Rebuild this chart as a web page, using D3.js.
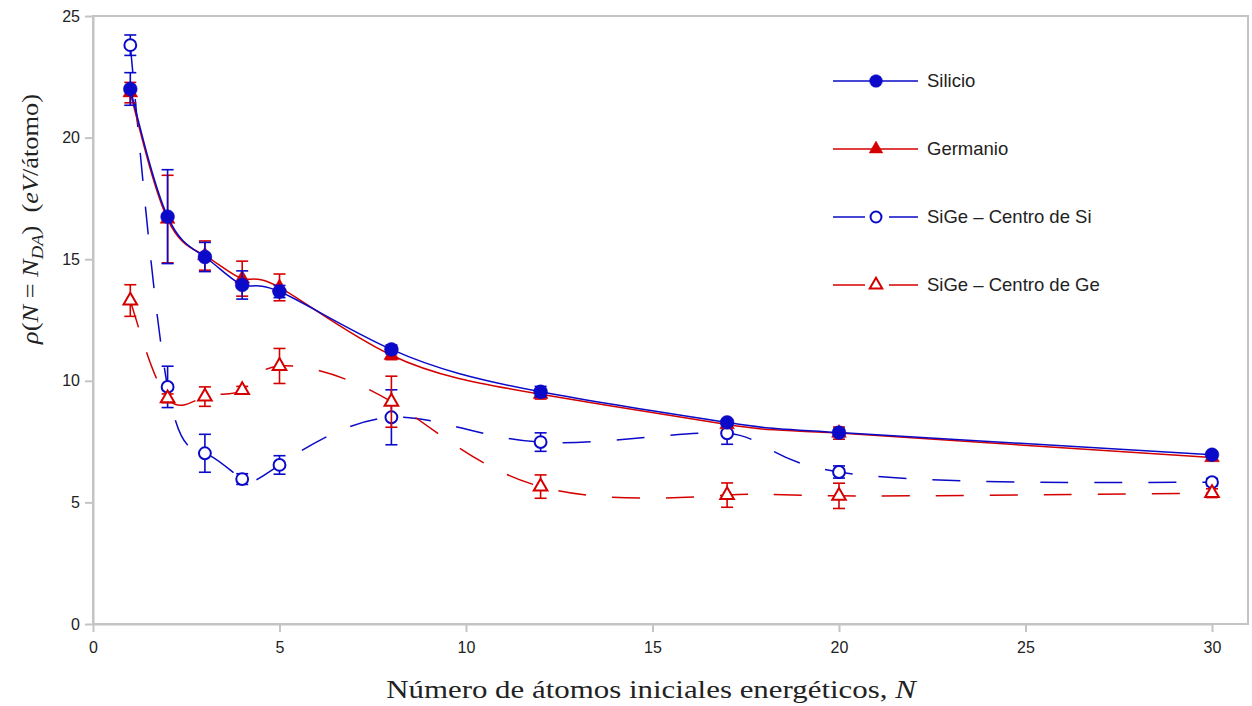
<!DOCTYPE html>
<html>
<head>
<meta charset="utf-8">
<script src="https://cdn.jsdelivr.net/npm/d3@7"></script>
<style>
  html, body { margin: 0; padding: 0; background: #fff; }
  svg { display: block; }
</style>
</head>
<body>
<svg id="chart" width="1252" height="706"></svg>
<script>
// Number of initial energetic atoms
const nValues = [1, 2, 3, 4, 5, 8, 12, 17, 20, 30];

// Silicio
const silicio    = [22.0, 16.75, 15.09, 13.94, 13.67, 11.29, 9.55, 8.29, 7.87, 6.96];
const silicioErr = [0.67, 1.93, 0.60, 0.58, 0.25, 0.18, 0.22, 0.12, 0.15, 0.10];

// Germanio
const germanio    = [21.85, 16.65, 15.15, 14.2, 13.84, 11.05, 9.45, 8.2, 7.85, 6.85];
const germanioErr = [0.42, 1.80, 0.60, 0.72, 0.55, 0.18, 0.20, 0.12, 0.25, 0.12];

// SiGe - centro de Si
const sigeSi    = [23.8, 9.75, 7.02, 5.96, 6.54, 8.5, 7.48, 7.84, 6.25, 5.83];
const sigeSiErr = [0.42, 0.85, 0.78, 0.22, 0.38, 1.13, 0.38, 0.45, 0.25, 0.15];

// SiGe - centro de Ge
const sigeGe    = [13.3, 9.28, 9.35, 9.62, 10.61, 9.14, 5.65, 5.3, 5.27, 5.38];
const sigeGeErr = [0.65, 0.18, 0.40, 0.15, 0.72, 1.05, 0.48, 0.50, 0.52, 0.18];

const xTicks = [0, 5, 10, 15, 20, 25, 30];
const yTicks = [0, 5, 10, 15, 20, 25];

const BLUE = "#0a0ac8";
const RED = "#d40000";

const svg = d3.select("#chart");
const plotL = 93, plotR = 1248, plotT = 16, plotB = 624;

const x = d3.scaleLinear().domain([0, 30]).range([plotL, 1212]);
const y = d3.scaleLinear().domain([0, 25]).range([plotB, plotT]);

// Frame and axes
const frameColor = "#c4c4c4";
svg.append("rect")
  .attr("x", plotL).attr("y", plotT)
  .attr("width", plotR - plotL).attr("height", plotB - plotT)
  .attr("fill", "none").attr("stroke", frameColor).attr("stroke-width", 2);

const yAxis = svg.append("g").attr("transform", `translate(${plotL},0)`)
  .call(d3.axisLeft(y).tickValues(yTicks).tickSize(8).tickSizeOuter(0).tickPadding(5));
const xAxis = svg.append("g").attr("transform", `translate(0,${plotB})`)
  .call(d3.axisBottom(x).tickValues(xTicks).tickSize(8).tickSizeOuter(0).tickPadding(10));
[xAxis, yAxis].forEach(g => {
  g.select(".domain").attr("stroke", frameColor).attr("stroke-width", 2);
  g.selectAll(".tick line").attr("stroke", frameColor).attr("stroke-width", 2);
  g.selectAll(".tick text")
    .attr("fill", "#222")
    .style("font-family", "'Liberation Sans', Arial, sans-serif")
    .style("font-size", "16px");
});

// Series definitions
const series = [
  { name: "SiGe \u2013 Centro de Si", vals: sigeSi, err: sigeSiErr, color: BLUE, dashed: true, symbol: d3.symbolCircle, size: 110, filled: false },
  { name: "SiGe \u2013 Centro de Ge", vals: sigeGe, err: sigeGeErr, color: RED, dashed: true, symbol: d3.symbolTriangle, size: 80, filled: false },
  { name: "Germanio", vals: germanio, err: germanioErr, color: RED, dashed: false, symbol: d3.symbolTriangle, size: 95, filled: true },
  { name: "Silicio", vals: silicio, err: silicioErr, color: BLUE, dashed: false, symbol: d3.symbolCircle, size: 150, filled: true }
];

const line = d3.line()
  .x(d => x(d.n))
  .y(d => y(d.v))
  .curve(d3.curveNatural);

series.forEach(s => {
  const pts = nValues.map((n, i) => ({ n, v: s.vals[i], e: s.err[i] }));
  const g = svg.append("g");

  g.append("path")
    .datum(pts)
    .attr("d", line)
    .attr("fill", "none")
    .attr("stroke", s.color)
    .attr("stroke-width", 1.5)
    .attr("stroke-dasharray", s.dashed ? "28,26" : null);

  // error bars
  const eb = g.selectAll(".eb").data(pts).enter().append("g");
  eb.append("line")
    .attr("x1", d => x(d.n)).attr("x2", d => x(d.n))
    .attr("y1", d => y(d.v - d.e)).attr("y2", d => y(d.v + d.e))
    .attr("stroke", s.color).attr("stroke-width", 1.6);
  [-1, 1].forEach(sign => {
    eb.append("line")
      .attr("x1", d => x(d.n) - 6).attr("x2", d => x(d.n) + 6)
      .attr("y1", d => y(d.v + sign * d.e)).attr("y2", d => y(d.v + sign * d.e))
      .attr("stroke", s.color).attr("stroke-width", 1.6);
  });

  // markers
  const sym = d3.symbol().type(s.symbol).size(s.size);
  g.selectAll(".mk").data(pts).enter().append("path")
    .attr("d", sym)
    .attr("transform", d => `translate(${x(d.n)},${y(d.v)})`)
    .attr("fill", s.filled ? s.color : "#fff")
    .attr("stroke", s.color)
    .attr("stroke-width", s.filled ? 0.5 : 2);
});

// Legend
const legendOrder = ["Silicio", "Germanio", "SiGe \u2013 Centro de Si", "SiGe \u2013 Centro de Ge"];
legendOrder.forEach((name, i) => {
  const s = series.find(d => d.name === name);
  const cy = 81 + i * 68;
  const g = svg.append("g");
  if (s.dashed) {
    g.append("line").attr("x1", 833).attr("x2", 865).attr("y1", cy).attr("y2", cy)
      .attr("stroke", s.color).attr("stroke-width", 1.5);
    g.append("line").attr("x1", 889).attr("x2", 918).attr("y1", cy).attr("y2", cy)
      .attr("stroke", s.color).attr("stroke-width", 1.5);
  } else {
    g.append("line").attr("x1", 833).attr("x2", 918).attr("y1", cy).attr("y2", cy)
      .attr("stroke", s.color).attr("stroke-width", 1.5);
  }
  g.append("path")
    .attr("d", d3.symbol().type(s.symbol).size(s.size * 0.85))
    .attr("transform", `translate(876,${cy})`)
    .attr("fill", s.filled ? s.color : "#fff")
    .attr("stroke", s.color)
    .attr("stroke-width", s.filled ? 0.5 : 2);
  g.append("text")
    .attr("x", 927).attr("y", cy)
    .attr("dy", "0.35em")
    .attr("fill", "#222")
    .style("font-family", "'Liberation Sans', Arial, sans-serif")
    .style("font-size", "18.5px")
    .text(name);
});

// Axis titles (widened slightly to the look of a LaTeX serif face)
const serif = "'Liberation Serif', 'DejaVu Serif', serif";
function fitWidth(textSel, width) {
  const w = textSel.node().getComputedTextLength();
  return width / w;
}

const yTitleG = svg.append("g");
const yTitle = yTitleG.append("text")
  .attr("text-anchor", "middle")
  .attr("fill", "#222")
  .style("font-family", serif)
  .style("font-size", "24px");
yTitle.append("tspan").style("font-style", "italic").text("\u03c1");
yTitle.append("tspan").text("(");
yTitle.append("tspan").style("font-style", "italic").text("N");
yTitle.append("tspan").text(" = ");
yTitle.append("tspan").style("font-style", "italic").text("N");
yTitle.append("tspan").style("font-style", "italic").style("font-size", "17px").attr("dy", 5).text("DA");
yTitle.append("tspan").attr("dy", -5).text(")\u2002(");
yTitle.append("tspan").style("font-style", "italic").text("eV");
yTitle.append("tspan").text("/\u00e1tomo)");
const ySx = fitWidth(yTitle, 250);
yTitleG.attr("transform", `translate(38,219) rotate(-90) scale(${ySx},1)`);

const xTitleG = svg.append("g");
const xTitle = xTitleG.append("text")
  .attr("text-anchor", "middle")
  .attr("fill", "#222")
  .style("font-family", serif)
  .style("font-size", "26px");
xTitle.append("tspan").text("N\u00famero de \u00e1tomos iniciales energ\u00e9ticos, ");
xTitle.append("tspan").style("font-style", "italic").text("N");
const xSx = fitWidth(xTitle, 530);
xTitleG.attr("transform", `translate(651,698) scale(${xSx},1)`);
</script>
</body>
</html>
